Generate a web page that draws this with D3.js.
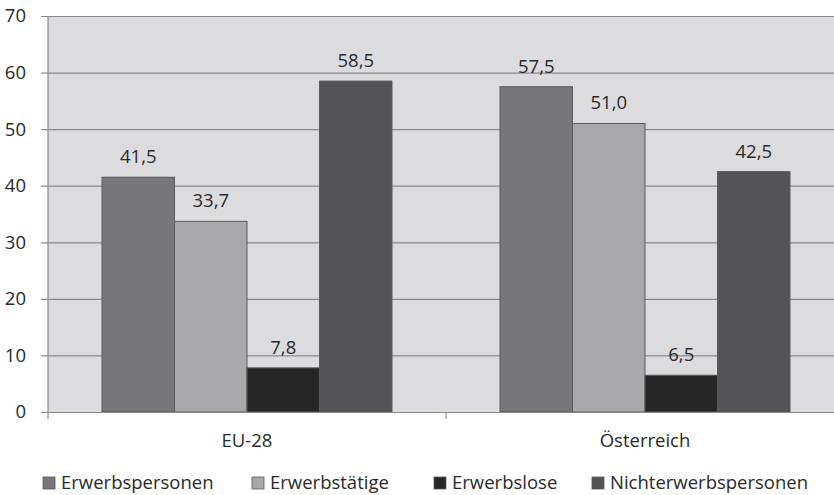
<!DOCTYPE html>
<html>
<head>
<meta charset="utf-8">
<script src="https://cdn.jsdelivr.net/npm/d3@7/dist/d3.min.js"></script>
<style>
  body { margin: 0; background: #fff; }
  svg { display: block; overflow: hidden; font-family: "Open Sans", sans-serif; }
</style>
</head>
<body>
<svg id="chart" width="834" height="495"></svg>
<script>
// data
var regions = ["EU-28", "Österreich"];
var groups = ["Erwerbspersonen", "Erwerbstätige", "Erwerbslose", "Nichterwerbspersonen"];
var erwerbspersonen = [41.5, 57.5];
var erwerbstaetige = [33.7, 51.0];
var erwerbslose = [7.8, 6.5];
var nichterwerbspersonen = [58.5, 42.5];
var yTicks = [0, 10, 20, 30, 40, 50, 60, 70];
var colors = ["#77777a", "#a8a8aa", "#262626", "#545456"];

var seriesValues = [erwerbspersonen, erwerbstaetige, erwerbslose, nichterwerbspersonen];

var svg = d3.select("#chart");
var plotLeft = 48, plotRight = 844, plotTop = 16, plotBottom = 412;
var fontSize = "18.5px";

// scales
var y = d3.scaleLinear().domain([0, 70]).range([plotBottom, plotTop]);
var x0 = d3.scaleBand().domain(regions).range([plotLeft, plotRight]).padding(0);
var x1 = d3.scaleBand().domain(groups).range([54, 344]).padding(0);

// plot background
svg.append("rect")
    .attr("x", plotLeft)
    .attr("y", plotTop)
    .attr("width", plotRight - plotLeft)
    .attr("height", plotBottom - plotTop)
    .attr("fill", "#dcdcde");

// gridlines and y labels
var yAxis = d3.axisLeft(y)
    .tickValues(yTicks)
    .tickSize(-(plotRight - plotLeft))
    .tickPadding(22)
    .tickFormat(d3.format("d"));

var gy = svg.append("g")
    .attr("transform", "translate(" + plotLeft + ",0)")
    .call(yAxis);
gy.select(".domain").remove();
gy.selectAll(".tick line")
    .attr("stroke", "#8a8a8c")
    .attr("stroke-width", 1.2)
    .attr("x1", -7);
gy.selectAll(".tick text")
    .attr("fill", "#2a2a2a")
    .attr("font-size", fontSize)
    .attr("font-family", "Open Sans, sans-serif");

// bars
var regionGroups = svg.selectAll(".region")
    .data(regions)
    .enter().append("g")
    .attr("class", "region")
    .attr("transform", function(d) { return "translate(" + x0(d) + ",0)"; });

regionGroups.selectAll("rect")
    .data(function(d, i) {
        return groups.map(function(g, j) { return { group: g, value: seriesValues[j][i], idx: j }; });
    })
    .enter().append("rect")
    .attr("x", function(d) { return x1(d.group); })
    .attr("y", function(d) { return y(d.value); })
    .attr("width", x1.bandwidth())
    .attr("height", function(d) { return plotBottom - y(d.value); })
    .attr("fill", function(d) { return colors[d.idx]; })
    .attr("stroke", "#5a5a5c")
    .attr("stroke-width", 1);

// value labels
regionGroups.selectAll(".val")
    .data(function(d, i) {
        return groups.map(function(g, j) { return { group: g, value: seriesValues[j][i] }; });
    })
    .enter().append("text")
    .attr("class", "val")
    .attr("x", function(d) { return x1(d.group) + x1.bandwidth() / 2; })
    .attr("y", function(d) { return y(d.value) - 14; })
    .attr("text-anchor", "middle")
    .attr("font-size", fontSize)
    .attr("fill", "#2a2a2a")
    .text(function(d) { return d.value.toFixed(1).replace(".", ","); });

// x axis
var xAxis = d3.axisBottom(x0).tickSize(0).tickPadding(22);
var gx = svg.append("g")
    .attr("transform", "translate(0," + plotBottom + ")")
    .call(xAxis);
gx.select(".domain").attr("stroke", "#8a8a8c").attr("stroke-width", 1.2);
gx.selectAll(".tick text")
    .attr("fill", "#2a2a2a")
    .attr("font-size", fontSize)
    .attr("font-family", "Open Sans, sans-serif");

// category divider ticks (first one is the y axis line)
svg.selectAll(".divider")
    .data(regions)
    .enter().append("line")
    .attr("x1", function(d) { return x0(d); })
    .attr("x2", function(d) { return x0(d); })
    .attr("y1", function(d, i) { return i == 0 ? plotTop : plotBottom; })
    .attr("y2", plotBottom + 7)
    .attr("stroke", "#8a8a8c")
    .attr("stroke-width", 1.2);

// legend
var legendX = [43, 252, 434, 592];
var legend = svg.selectAll(".legend")
    .data(groups)
    .enter().append("g")
    .attr("class", "legend")
    .attr("transform", function(d, i) { return "translate(" + legendX[i] + ",477)"; });

legend.append("rect")
    .attr("width", 12)
    .attr("height", 12)
    .attr("fill", function(d, i) { return colors[i]; })
    .attr("stroke", "#5a5a5c")
    .attr("stroke-width", 0.8);

legend.append("text")
    .attr("x", 18)
    .attr("y", 12)
    .attr("font-size", fontSize)
    .attr("fill", "#2a2a2a")
    .text(function(d) { return d; });
</script>
</body>
</html>
